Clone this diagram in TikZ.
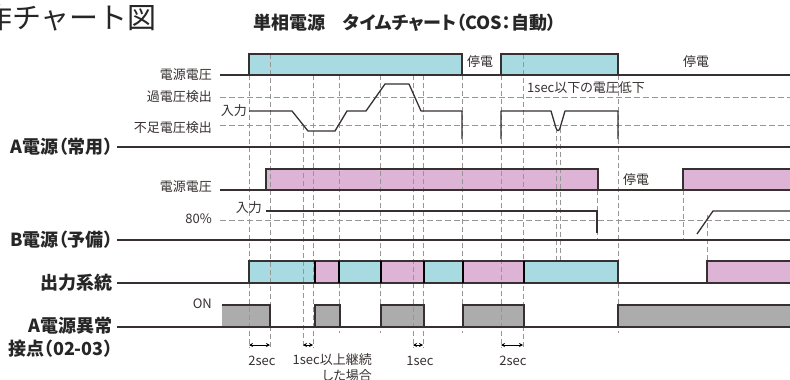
\documentclass[tikz,border=0pt]{standalone}
\usepackage{fontspec}
\setmainfont{Noto Sans CJK JP}
\newfontfamily\jp{Noto Sans CJK JP}
\newfontfamily\jpp{Noto Sans CJK JP}[RawFeature=+palt]
\usetikzlibrary{arrows.meta}
\definecolor{cy}{RGB}{168,219,225}
\definecolor{pk}{RGB}{222,180,214}
\definecolor{gy}{RGB}{172,172,172}
\definecolor{dk}{RGB}{55,48,48}
\definecolor{dg}{RGB}{150,150,150}
\begin{document}
\begin{tikzpicture}[x=1pt,y=-1pt,
  lbl/.style={font=\jpp\fontsize{13}{16}\selectfont, inner sep=0pt, text=dk},
  big/.style={font=\jpp\bfseries\fontsize{18}{21}\selectfont, inner sep=0pt, text=black!85},
  wave/.style={draw=dk, line width=1.3pt},
  grid/.style={draw=dg, line width=0.8pt, dash pattern=on 5pt off 3pt},
  hz/.style={draw=dg, line width=0.9pt, dash pattern=on 6pt off 3pt},
  sep/.style={draw=black, line width=2pt},
  dim/.style={draw=black, line width=1pt, {Stealth[length=4pt,width=4pt]}-{Stealth[length=4pt,width=4pt]}}
]
\useasboundingbox (0,0) rectangle (790,380);

% fills
\fill[cy] (249,54) rectangle (462,75);
\fill[cy] (501,54) rectangle (618,75);
\fill[pk] (266,169) rectangle (598,190);
\fill[pk] (683,169) rectangle (790,190);
\fill[cy] (249,261) rectangle (315,283);
\fill[pk] (315,261) rectangle (339,283);
\fill[cy] (339,261) rectangle (381,283);
\fill[pk] (381,261) rectangle (424,283);
\fill[cy] (424,261) rectangle (463,283);
\fill[pk] (463,261) rectangle (524,283);
\fill[cy] (524,261) rectangle (618,283);
\fill[pk] (707,261) rectangle (790,283);
\fill[gy] (222,305) rectangle (270,327);
\fill[gy] (315,305) rectangle (340,327);
\fill[gy] (381,305) rectangle (424,327);
\fill[gy] (463,305) rectangle (524,327);
\fill[gy] (618,305) rectangle (790,327);

% horizontal dashed levels
\draw[hz] (220,97) -- (790,97);
\draw[hz] (220,125) -- (790,125);
\draw[hz] (220,220) -- (790,220);

% vertical dashed lines
\foreach \x/\ya/\yb in {249/75/348, 270/54/348, 303/125/348, 313/75/348,
  339/75/333, 380/75/333, 413/75/348, 423/75/348, 462/75/333, 501/75/348,
  523/54/348, 556/128/261, 560/128/261, 618/75/333, 597/190/240,
  683/190/240, 707/215/261}
  \draw[grid] (\x,\ya) -- (\x,\yb);

% label lines
\draw[wave] (117,147) -- (790,147);
\draw[wave] (117,240) -- (790,240);
\draw[wave] (117,283) -- (790,283);
\draw[wave] (117,327) -- (790,327);

% A voltage
\draw[wave] (220,75) -- (790,75);
\draw[wave] (249,75) -- (249,54) -- (462,54) -- (462,75);
\draw[wave] (501,75) -- (501,54) -- (618,54) -- (618,75);
% A input
\draw[wave, line join=round] (249,111) -- (292,111) -- (308,131) -- (335,131) -- (347,111)
  -- (366,111) -- (385,84) -- (409,84) -- (421,111) -- (462,111) -- (462,139);
\draw[wave, line join=round] (501,139) -- (501,111) -- (551,111) -- (556,128)
  .. controls (557.3,131.5) and (558.7,131.5) .. (560,128) -- (565,111) -- (618,111) -- (618,139);

% B voltage
\draw[wave] (220,190) -- (790,190);
\draw[wave] (266,190) -- (266,169) -- (598,169) -- (598,190);
\draw[wave] (683,190) -- (683,169) -- (790,169);
% B input
\draw[wave] (266,211) -- (597,211) -- (597,233);
\draw[wave] (697,234) -- (713,211) -- (790,211);

% output
\draw[wave] (249,283) -- (249,261) -- (618,261) -- (618,283);
\draw[wave] (707,283) -- (707,261) -- (790,261);
\foreach \x in {315,339,381,424,463,524}
  \draw[sep] (\x,261) -- (\x,283);

% A fault contact
\draw[wave] (222,305) -- (270,305) -- (270,327);
\draw[wave] (315,327) -- (315,305) -- (340,305) -- (340,327);
\draw[wave] (381,327) -- (381,305) -- (424,305) -- (424,327);
\draw[wave] (463,327) -- (463,305) -- (524,305) -- (524,327);
\draw[wave] (618,327) -- (618,305) -- (790,305);

% dimension arrows
\draw[dim] (249,345) -- (270,345);
\draw[dim] (303,345) -- (313,345);
\draw[dim] (413,345) -- (423,345);
\draw[dim] (501,345) -- (523,345);

% texts
\node[anchor=east, inner sep=0pt, font=\jp\fontsize{29}{32}\selectfont, text=black!85] (t0) at (157,18) {作チャート図};
\node[anchor=west, inner sep=0pt, font=\jpp\bfseries\fontsize{18}{21}\selectfont, text=black!85] (t1) at (253,23) {単相電源　タイムチャート（COS：自動）};

\node[lbl, anchor=east] (av) at (212,75) {電源電圧};
\node[lbl, anchor=east] (ov) at (212,97) {過電圧検出};
\node[lbl, anchor=east] (ai) at (247,111) {入力};
\node[lbl, anchor=east] (uv) at (212,128) {不足電圧検出};
\node[lbl, anchor=west] (to1) at (467,62) {停電};
\node[lbl, anchor=west] (to2) at (683,62) {停電};
\node[lbl, anchor=west] (dip) at (527,88) {1sec以下の電圧低下};
\node[big, anchor=east] (la) at (113,147) {A電源（常用）};

\node[lbl, anchor=east] (bv) at (212,187) {電源電圧};
\node[lbl, anchor=west] (to3) at (623,180) {停電};
\node[lbl, anchor=east] (bi) at (262,208) {入力};
\node[lbl, anchor=east] (p80) at (212,219) {80\%};
\node[big, anchor=east] (lb) at (113,240) {B電源（予備）};

\node[big, anchor=east] (lo) at (113,283) {出力系統};
\node[lbl, anchor=east] (on) at (212,304) {ON};
\node[big, anchor=east] (lf1) at (113,326) {A電源異常};
\node[big, anchor=east] (lf2) at (113,349) {接点（02-03）};

\node[lbl] (s1) at (262,361) {2sec};
\node[lbl, anchor=north east, align=right] (s2) at (372,353) {1sec以上継続\\した場合};
\node[lbl] (s3) at (420,361) {1sec};
\node[lbl] (s4) at (513,361) {2sec};
\end{tikzpicture}
\end{document}
